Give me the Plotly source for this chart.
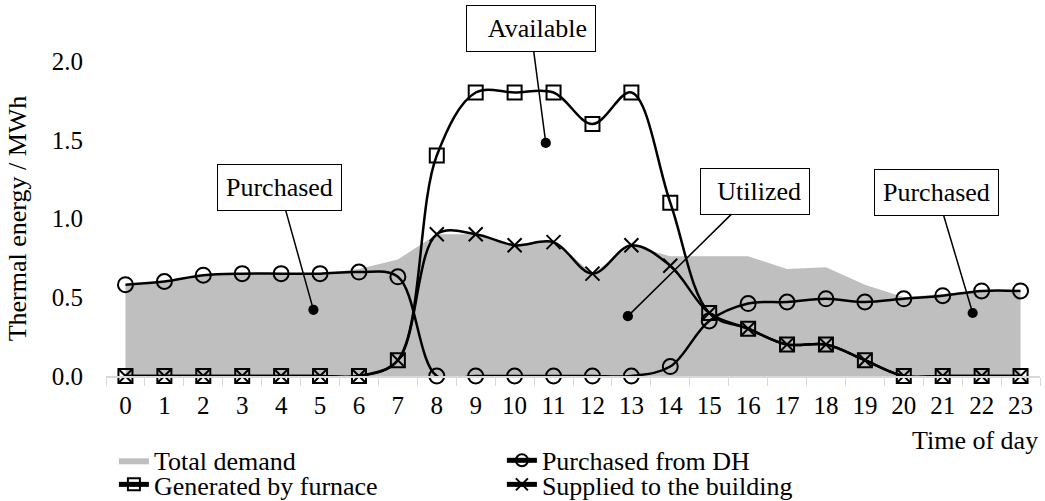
import plotly.graph_objects as go

hours = [str(h) for h in range(24)]
total_demand = [0.58, 0.60, 0.64, 0.65, 0.65, 0.65, 0.68, 0.74, 0.90, 0.90, 0.83, 0.86,
                0.65, 0.83, 0.76, 0.76, 0.76, 0.68, 0.69, 0.58, 0.50, 0.52, 0.54, 0.54]
purchased_dh = [0.58, 0.60, 0.64, 0.65, 0.65, 0.65, 0.66, 0.63, 0.0, 0.0, 0.0, 0.0,
                0.0, 0.0, 0.06, 0.35, 0.46, 0.47, 0.49, 0.47, 0.49, 0.51, 0.54, 0.54]
generated_furnace = [0, 0, 0, 0, 0, 0, 0, 0.10, 1.40, 1.80, 1.80, 1.80,
                     1.60, 1.80, 1.10, 0.40, 0.30, 0.20, 0.20, 0.10, 0, 0, 0, 0]
supplied_building = [0, 0, 0, 0, 0, 0, 0, 0.10, 0.90, 0.90, 0.83, 0.85,
                     0.65, 0.83, 0.70, 0.40, 0.30, 0.20, 0.20, 0.10, 0, 0, 0, 0]
y_ticks = [0.0, 0.5, 1.0, 1.5, 2.0]

# callouts: label, dot position (hour, MWh)
callout_labels = ["Purchased", "Available", "Utilized", "Purchased"]
callout_x = [4.83, 10.8, 12.91, 21.77]
callout_y = [0.42, 1.48, 0.38, 0.40]

FONT = "Liberation Serif"

fig = go.Figure()
fig.add_trace(go.Scatter(
    x=hours, y=total_demand, name="Total demand", mode="lines",
    line=dict(width=0, color="#bfbfbf"), fill="tozeroy", fillcolor="#bfbfbf",
    legend="legend"))
fig.add_trace(go.Scatter(
    x=hours, y=purchased_dh, name="Purchased from DH", mode="lines+markers",
    line=dict(color="black", width=2.5, shape="spline", smoothing=1),
    marker=dict(symbol="circle-open", size=15, color="black", line=dict(width=2)),
    cliponaxis=False, legend="legend"))
fig.add_trace(go.Scatter(
    x=hours, y=generated_furnace, name="Generated by furnace", mode="lines+markers",
    line=dict(color="black", width=2.5, shape="spline", smoothing=1),
    marker=dict(symbol="square-open", size=14, color="black", line=dict(width=2)),
    cliponaxis=False, legend="legend2"))
fig.add_trace(go.Scatter(
    x=hours, y=supplied_building, name="Supplied to the building", mode="lines+markers",
    line=dict(color="black", width=2.5, shape="spline", smoothing=1),
    marker=dict(symbol="x-thin-open", size=14, color="black", line=dict(width=2)),
    cliponaxis=False, legend="legend2"))

offsets = [(-34, -122), (-15, -114), (127, -125), (-36, -121)]
widths = [None, 112, 92, None]
for lab, cx, cy, (ax, ay), w in zip(callout_labels, callout_x, callout_y, offsets, widths):
    kw = {}
    if w:
        kw = dict(width=w, align="right")
    fig.add_annotation(
        x=cx, y=cy, xref="x", yref="y", text=lab, showarrow=True,
        ax=ax, ay=ay, arrowhead=6, arrowsize=1.7, arrowwidth=1.5, arrowcolor="black",
        font=dict(family=FONT, size=26, color="black"),
        bgcolor="white", bordercolor="black", borderwidth=1, borderpad=8, **kw)

fig.add_annotation(
    x=1, y=-0.206, xref="paper", yref="paper", xanchor="right", yanchor="middle",
    text="Time of day", showarrow=False, font=dict(family=FONT, size=26, color="black"))

legend_common = dict(orientation="h", xref="container", yref="container",
                     xanchor="left", yanchor="middle",
                     entrywidth=343, entrywidthmode="pixels",
                     font=dict(family=FONT, size=26, color="black"),
                     bgcolor="rgba(0,0,0,0)", itemsizing="constant")

fig.update_layout(
    width=1045, height=501,
    margin=dict(l=106, r=5, t=61, b=125, autoexpand=False),
    plot_bgcolor="white", paper_bgcolor="white",
    font=dict(family=FONT, size=25, color="black"),
    legend=dict(x=0.109, y=0.081, **legend_common),
    legend2=dict(x=0.109, y=0.033, **legend_common),
    xaxis=dict(type="category", range=[-0.5, 23.5], tickson="boundaries",
               ticks="outside", ticklen=8, tickcolor="#d9d9d9", tickwidth=1,
               showline=True, linecolor="#d9d9d9", linewidth=1.5,
               showgrid=False, zeroline=False, automargin=False,
               ticklabelstandoff=6,
               tickfont=dict(family=FONT, size=25, color="black")),
    yaxis=dict(range=[0, 2.0], tickvals=y_ticks, tickformat=".1f", ticks="",
               showline=False, showgrid=False, zeroline=False, automargin=False,
               ticklabelstandoff=22,
               tickfont=dict(family=FONT, size=25, color="black"),
               title=dict(text="Thermal energy / MWh", standoff=17,
                          font=dict(family=FONT, size=26, color="black"))),
)

fig.write_html("out.html", config={"displayModeBar": False},
               post_script="document.body.style.margin='0';")
